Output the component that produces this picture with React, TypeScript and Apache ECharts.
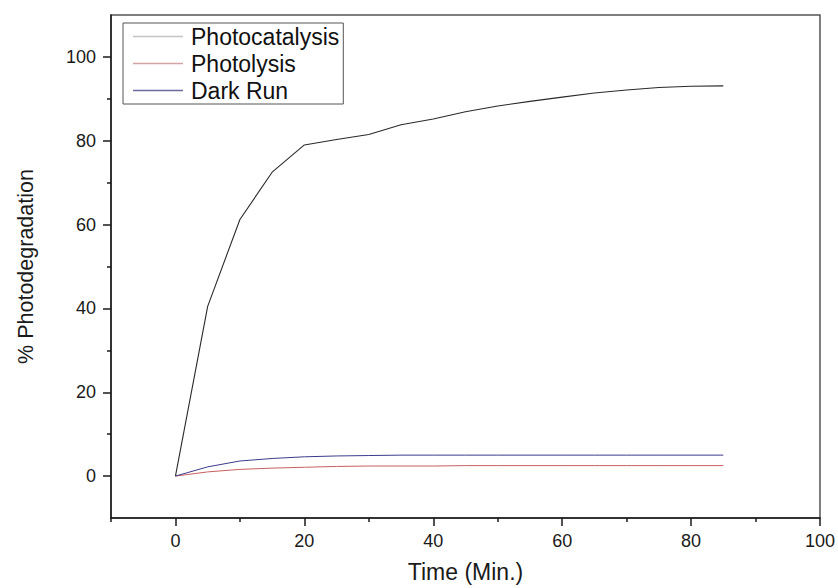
import React, { useEffect, useRef } from "react";
import * as echarts from "echarts";

const times = [0, 5, 10, 15, 20, 25, 30, 35, 40, 45, 50, 55, 60, 65, 70, 75, 80, 85];
const photocatalysis = [0, 40.5, 61.2, 72.5, 79.0, 80.3, 81.5, 83.8, 85.2, 86.9, 88.3, 89.4, 90.4, 91.4, 92.1, 92.7, 93.0, 93.1];
const photolysis = [0, 1.0, 1.6, 1.9, 2.1, 2.3, 2.4, 2.4, 2.4, 2.5, 2.5, 2.5, 2.5, 2.5, 2.5, 2.5, 2.5, 2.5];
const darkRun = [0, 2.2, 3.6, 4.2, 4.6, 4.8, 4.9, 5.0, 5.0, 5.0, 5.0, 5.0, 5.0, 5.0, 5.0, 5.0, 5.0, 5.0];

const seriesNames = ["Photocatalysis", "Photolysis", "Dark Run"];
const xMajorTicks = [0, 20, 40, 60, 80, 100];
const xMinorTicks = [-10, 10, 30, 50, 70, 90];
const yMajorTicks = [0, 20, 40, 60, 80, 100];
const yMinorTicks = [10, 30, 50, 70, 90];

const FONT = "'Liberation Sans', Arial, sans-serif";

export default function App() {
  const ref = useRef<HTMLDivElement>(null);
  useEffect(() => {
    if (!ref.current) return;
    const chart = echarts.init(ref.current, null, { renderer: "svg" });
    const pair = (ys: number[]) => times.map((t, i) => [t, ys[i]]);
    const axisCommon = {
      type: "value" as const,
      splitLine: { show: false },
      axisLine: { show: true, onZero: false, lineStyle: { color: "#1a1a1a", width: 1.5 } },
    };
    chart.setOption({
      animation: false,
      backgroundColor: "#fff",
      grid: {
        left: 111,
        right: 16,
        top: 15,
        bottom: 69,
        show: true,
        borderColor: "#555",
        borderWidth: 1.5,
      },
      legend: {
        orient: "vertical",
        left: 123,
        top: 23,
        backgroundColor: "#fff",
        borderColor: "#555",
        borderWidth: 1,
        padding: [2, 4, 2, 10],
        itemGap: 4,
        itemWidth: 50,
        itemHeight: 1.5,
        icon: "rect",
        textStyle: { fontFamily: FONT, fontSize: 23, color: "#111", padding: [0, 0, 0, 3] },
        data: [
          { name: seriesNames[0], itemStyle: { color: "#c4c4c4" } },
          { name: seriesNames[1], itemStyle: { color: "#d4a4a4" } },
          { name: seriesNames[2], itemStyle: { color: "#6c6c9c" } },
        ],
      },
      xAxis: [
        {
          ...axisCommon,
          min: -10,
          max: 100,
          interval: 10,
          name: "Time (Min.)",
          nameLocation: "middle",
          nameGap: 42,
          nameTextStyle: { fontFamily: FONT, fontSize: 23, color: "#1a1a1a" },
          axisTick: { show: true, inside: false, length: 8, customValues: xMajorTicks, lineStyle: { color: "#1a1a1a", width: 1.5 } },
          axisLabel: { customValues: xMajorTicks, margin: 14, fontFamily: FONT, fontSize: 18, color: "#1a1a1a" },
        },
        {
          type: "value",
          position: "bottom",
          min: -10,
          max: 100,
          interval: 10,
          splitLine: { show: false },
          axisLine: { show: false, onZero: false },
          axisTick: { show: true, inside: false, length: 4, customValues: xMinorTicks, lineStyle: { color: "#1a1a1a", width: 1.5 } },
          axisLabel: { show: false },
        },
      ],
      yAxis: [
        {
          ...axisCommon,
          min: -10,
          max: 110,
          interval: 10,
          name: "% Photodegradation",
          nameLocation: "middle",
          nameGap: 74,
          nameRotate: 90,
          nameTextStyle: { fontFamily: FONT, fontSize: 21.5, color: "#1a1a1a" },
          axisTick: { show: true, inside: false, length: 8, customValues: yMajorTicks, lineStyle: { color: "#1a1a1a", width: 1.5 } },
          axisLabel: { customValues: yMajorTicks, margin: 15, fontFamily: FONT, fontSize: 18, color: "#1a1a1a" },
        },
        {
          type: "value",
          position: "left",
          min: -10,
          max: 110,
          interval: 10,
          splitLine: { show: false },
          axisLine: { show: false, onZero: false },
          axisTick: { show: true, inside: false, length: 4, customValues: yMinorTicks, lineStyle: { color: "#1a1a1a", width: 1.5 } },
          axisLabel: { show: false },
        },
      ],
      series: [
        {
          name: seriesNames[0],
          type: "line",
          data: pair(photocatalysis),
          showSymbol: false,
          symbol: "none",
          color: "#2a2a2a",
          lineStyle: { color: "#2a2a2a", width: 1.1 },
        },
        {
          name: seriesNames[1],
          type: "line",
          data: pair(photolysis),
          showSymbol: false,
          symbol: "none",
          color: "#c86060",
          lineStyle: { color: "#c86060", width: 1 },
        },
        {
          name: seriesNames[2],
          type: "line",
          data: pair(darkRun),
          showSymbol: false,
          symbol: "none",
          color: "#3c3c8c",
          lineStyle: { color: "#3c3c8c", width: 1 },
        },
      ],
    });
    return () => chart.dispose();
  }, []);
  return (
    <div
      ref={ref}
      style={{ position: "fixed", left: 0, top: 0, width: 838, height: 588, background: "#fff" }}
    />
  );
}
